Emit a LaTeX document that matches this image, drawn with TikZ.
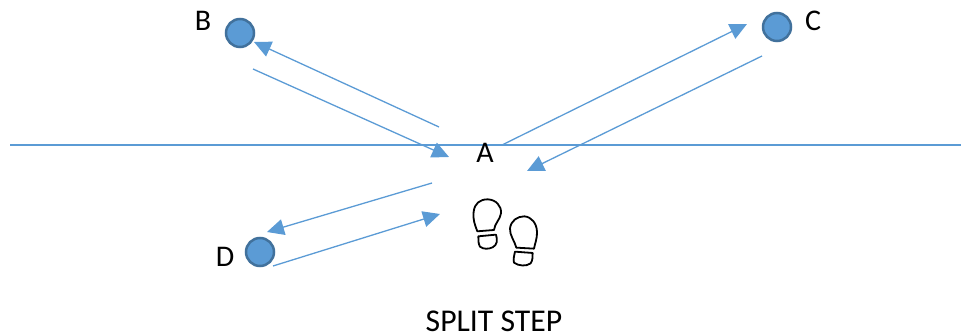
\documentclass[tikz,border=0pt]{standalone}
\usepackage{fontspec}
\setmainfont{Carlito}
\usetikzlibrary{arrows.meta}
\definecolor{blueA}{HTML}{5B9BD5}
\definecolor{blueB}{HTML}{41719C}
\tikzset{
  dot/.style={circle,draw=blueB,fill=blueA,line width=2.5pt,minimum size=28pt,inner sep=0pt},
  lab/.style={font=\fontsize{30pt}{32pt}\selectfont,inner sep=0pt,text=black,anchor=base},
  ttl/.style={font=\fontsize{31.7pt}{33pt}\selectfont,inner sep=0pt,text=black,anchor=base},
  conn/.style={draw=blueA,line width=1.3pt,-{Triangle[length=17pt,width=16pt,fill=blueA]}},
  rule/.style={draw=blueA,line width=1.5pt},
  shoe/.style={draw=black,line width=1.8pt,line join=round}
}
\begin{document}
\begin{tikzpicture}[x=1pt,y=-1pt]
\useasboundingbox (0,0) rectangle (961,336);
\coordinate (ruleL) at (10,145);
\coordinate (ruleR) at (961,145);
\draw[rule] (ruleL) -- (ruleR);
\node[dot] (B) at (240,33) {};
\node[dot] (C) at (777,27) {};
\node[dot] (D) at (260,252) {};
\node[lab] (lB) at (203,31) {B};
\node[lab] (lC) at (813,31) {C};
\node[lab] (lD) at (225,267) {D};
\node[lab] (lA) at (485,163) {A};
\node[ttl] (title) at (494,332) {SPLIT STEP};
\coordinate (b1s) at (439,127); \coordinate (b1e) at (254,42);
\coordinate (b2s) at (253,69);  \coordinate (b2e) at (449,157);
\coordinate (c1s) at (502,145); \coordinate (c1e) at (747,24);
\coordinate (c2s) at (762,56);  \coordinate (c2e) at (527,171);
\coordinate (d1s) at (432,183); \coordinate (d1e) at (267,232);
\coordinate (d2s) at (273,266); \coordinate (d2e) at (440,214);
\draw[conn] (b1s) -- (b1e);
\draw[conn] (b2s) -- (b2e);
\draw[conn] (c1s) -- (c1e);
\draw[conn] (c2s) -- (c2e);
\draw[conn] (d1s) -- (d1e);
\draw[conn] (d2s) -- (d2e);
\begin{scope}[shift={(420,130)},x=0.3333pt,y=-0.3333pt,shoe]
 \draw (172,304) .. controls (165,285) and (158,270) .. (161,245)
   .. controls (164,220) and (180,208) .. (203,208)
   .. controls (228,209) and (245,228) .. (243,250)
   .. controls (240,270) and (224,280) .. (222,300) -- cycle;
 \draw (175,319) -- (228,314) .. controls (233,330) and (232,345) .. (218,352)
   .. controls (205,358) and (190,358) .. (180,350)
   .. controls (175,342) and (175,330) .. (175,319) -- cycle;
 \draw (289,353) .. controls (285,335) and (268,315) .. (270,295)
   .. controls (273,272) and (292,259) .. (313,259)
   .. controls (335,261) and (350,280) .. (351,305)
   .. controls (352,325) and (345,340) .. (342,356) -- cycle;
 \draw (285,365) -- (338,369) .. controls (338,380) and (338,392) .. (332,400)
   .. controls (320,410) and (295,408) .. (282,398)
   .. controls (279,388) and (283,376) .. (285,365) -- cycle;
\end{scope}
\end{tikzpicture}
\end{document}
